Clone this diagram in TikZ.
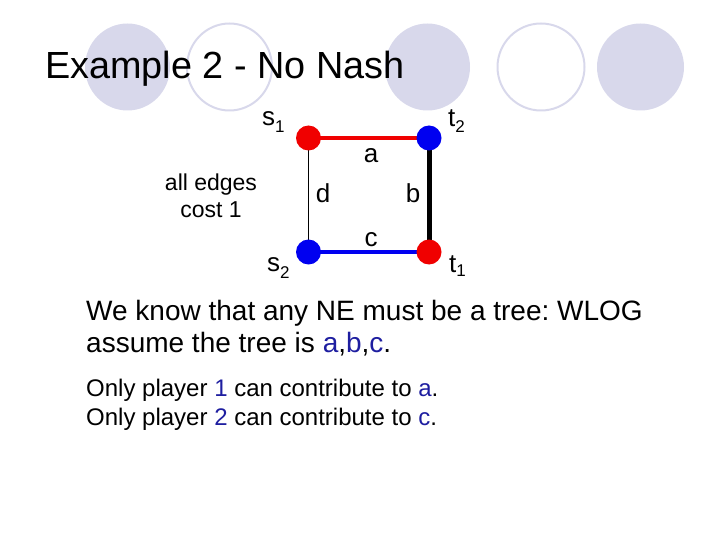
\documentclass[tikz,border=0pt]{standalone}
\usepackage{fontspec}
\setmainfont{Liberation Sans}
\frenchspacing
\definecolor{lav}{RGB}{216,216,235}
\definecolor{dblue}{RGB}{30,30,160}
\definecolor{nred}{RGB}{240,0,0}
\definecolor{nblue}{RGB}{0,0,240}
\newcommand{\lsub}[2]{\raisebox{-#1pt}{\fontsize{17}{17}\selectfont #2}}
\begin{document}
\begin{tikzpicture}[x=1pt,y=-1pt,
  deco/.style={fill=lav,draw=none},
  decoring/.style={draw=lav,line width=2pt},
  vert/.style={circle,inner sep=0pt,minimum size=25pt},
  lbl/.style={font=\fontsize{26}{26}\selectfont,inner sep=0pt},
  body/.style={font=\fontsize{28}{28}\selectfont,inner sep=0pt,anchor=base west},
  small/.style={font=\fontsize{24}{24}\selectfont,inner sep=0pt,anchor=base west}]
\useasboundingbox (0,0) rectangle (720,540);
% background decoration
\fill[deco] (127.5,67) ellipse [x radius=42.5,y radius=43.5];
\draw[decoring] (229.5,67) ellipse [x radius=42.5,y radius=43.5];
\fill[deco] (427.5,67) ellipse [x radius=42.5,y radius=43.5];
\draw[decoring] (541,67) ellipse [x radius=43.5,y radius=43.5];
\fill[deco] (640.5,67) ellipse [x radius=43.5,y radius=43.5];
% title
\node[inner sep=0pt,anchor=base west,font=\fontsize{37.8}{37.8}\selectfont] (title) at (45,79) {Example 2 - No Nash};
% graph
\coordinate (ps1) at (308.5,138);
\coordinate (pt2) at (429,138);
\coordinate (ps2) at (308.5,252);
\coordinate (pt1) at (429,252);
\draw[black,line width=1pt] (ps1) -- (ps2);
\draw[nred,line width=4.5pt] (ps1) -- (pt2);
\draw[black,line width=5pt] (pt2) -- (pt1);
\draw[nblue,line width=4.5pt] (ps2) -- (pt1);
\node[vert,fill=nred] (s1) at (ps1) {};
\node[vert,fill=nblue] (t2) at (pt2) {};
\node[vert,fill=nblue] (s2) at (ps2) {};
\node[vert,fill=nred] (t1) at (pt1) {};
\node[lbl,anchor=base west] (ls1) at (262,126) {s\lsub{7}{1}};
\node[lbl,anchor=base west] (lt2) at (448,127) {t\lsub{6}{2}};
\node[lbl,anchor=base west] (ls2) at (267,271) {s\lsub{7}{2}};
\node[lbl,anchor=base west] (lt1) at (449,272) {t\lsub{5}{1}};
\node[lbl,anchor=base] (la) at (371,163) {a};
\node[lbl,anchor=base] (ld) at (323,203) {d};
\node[lbl,anchor=base] (lb) at (413,203) {b};
\node[lbl,anchor=base] (lc) at (371,246) {c};
\node[lbl,font=\fontsize{23}{23}\selectfont,anchor=base] (cost1) at (211,191) {all edges};
\node[lbl,font=\fontsize{23}{23}\selectfont,anchor=base] (cost2) at (211,218) {cost 1};
% text
\node[body] (l1) at (86,320) {We know that any NE must be a tree: WLOG};
\node[body] (l2) at (86,352) {assume the tree is \textcolor{dblue}{a},\textcolor{dblue}{b},\textcolor{dblue}{c}.};
\node[small] (l3) at (86,396) {Only player \textcolor{dblue}{1} can contribute to \textcolor{dblue}{a}.};
\node[small] (l4) at (86,425) {Only player \textcolor{dblue}{2} can contribute to \textcolor{dblue}{c}.};
\end{tikzpicture}
\end{document}
